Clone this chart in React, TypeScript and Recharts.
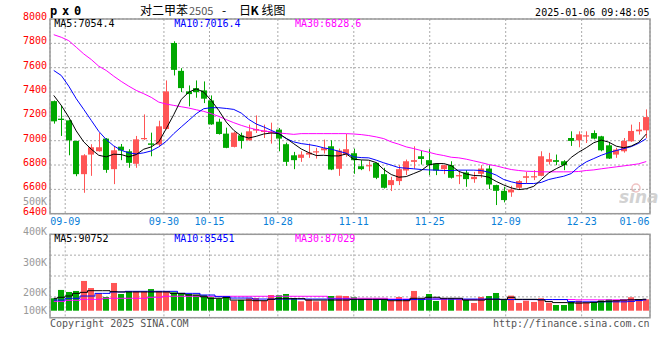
import React from 'react';
import { ComposedChart, Bar, Line, XAxis, YAxis, CartesianGrid } from 'recharts';

// 交易日
const dates = ['09-05','09-06','09-09','09-10','09-11','09-12','09-13','09-18','09-19','09-20','09-23','09-24','09-25','09-26','09-27','09-30','10-08','10-09','10-10','10-11','10-14','10-15','10-16','10-17','10-18','10-21','10-22','10-23','10-24','10-25','10-28','10-29','10-30','10-31','11-01','11-04','11-05','11-06','11-07','11-08','11-11','11-12','11-13','11-14','11-15','11-18','11-19','11-20','11-21','11-22','11-25','11-26','11-27','11-28','11-29','12-02','12-03','12-04','12-05','12-06','12-09','12-10','12-11','12-12','12-13','12-16','12-17','12-18','12-19','12-20','12-23','12-24','12-25','12-26','12-27','12-30','12-31','01-02','01-03','01-06'];

const opens = [7325,7181,7167,6998,6725,6886,6913,7017,6766,6951, 6913,6810,7014,6978,6968,7096,7803,7574,7405,7432, 7413,7331,7156,7058,6949,7044,7003,7083,7072,7066, 7091,6971,6880,6859,6886,6905,6921,6954,6769,6886, 6897,6790,6790,6818,6725,6635,6668,6755,6826,6872, 6840,6812,6766,6799,6708,6739,6684,6728,6771,6635, 6588,6575,6613,6695,6700,6711,6826,6840,6831,7022, 7003,7036,7063,7036,6962,6886,6913,6995,7077,7085];
const highs = [7330,7290,7172,7000,6889,6971,7063,7022,6957,6973, 6930,7039,7216,7066,7164,7495,7817,7596,7454,7495, 7487,7372,7181,7107,7072,7066,7132,7208,7132,7148, 7104,6984,6908,6913,6976,6941,7009,7003,6935,7055, 6935,6840,6831,6820,6777,6703,6799,6845,6954,6916, 6930,6815,6802,6831,6744,6758,6744,6799,6799,6638, 6621,6629,6676,6744,6758,6913,6900,6886,6840,7077, 7077,7077,7085,7040,6990,6941,7022,7132,7153,7257];
const lows = [7140,7039,6880,6708,6572,6711,6910,6736,6643,6840, 6777,6777,7006,6872,6949,7093,7536,7399,7282,7353, 7309,7130,7050,6938,6945,6935,7000,7063,7022,6976, 6913,6793,6766,6826,6859,6853,6894,6758,6711,6867, 6728,6758,6749,6684,6607,6586,6635,6717,6771,6804, 6717,6717,6725,6689,6643,6621,6654,6695,6602,6471, 6493,6539,6602,6648,6676,6708,6804,6799,6758,6957, 6946,6981,7011,6913,6850,6859,6902,6990,7050,7022];
const closes = [7159,7170,7003,6725,6880,6946,6946,6760,6921,6919, 6818,7011,7022,6966,7118,7405,7582,7432,7383,7399, 7345,7134,7055,6941,7066,6998,7077,7096,7083,7074, 7017,6826,6840,6886,6902,6913,6938,6763,6919,6930, 6840,6766,6799,6695,6613,6676,6766,6831,6840,6850, 6801,6755,6799,6695,6717,6684,6703,6771,6640,6588, 6512,6599,6668,6708,6708,6872,6848,6826,6799,6998, 7052,7044,7017,6921,6853,6927,6998,7080,7091,7194];

const ma5 = [7372,7290,7194,7080,6990,6930,6880,6867,6889,6886, 6867,6886,6930,6949,6990,7099,7214,7339,7399,7426, 7399,7331,7249,7153,7085,7039,7022,7036,7055,7063, 7058,7019,6975,6932,6902,6878,6880,6875,6875,6891, 6848,6842,6840,6820,6763,6722,6700,6705,6730,6755, 6801,6812,6812,6795,6748,6726,6714,6712,6700,6665, 6636,6612,6598,6605,6625,6680,6735,6770,6800,6863, 6906,6942,6983,7005,6988,6955,6942,6956,6986,7054.4];
const ma10 = [7577,7536,7448,7345,7257,7167,7077,7009,6957,6921, 6900,6891,6900,6916,6949,6995,7058,7113,7167,7222, 7263,7271,7271,7265,7257,7227,7175,7137,7113,7085, 7058,7017,6990,6976,6968,6957,6941,6930,6913,6897, 6867,6861,6859,6840,6818,6799,6779,6774,6769,6763, 6760,6758,6755,6755,6758,6758,6758,6755,6741,6717, 6681,6662,6648,6648,6648,6657,6681,6695,6708,6730, 6785,6826,6853,6880,6902,6919,6935,6951,6979,7016.4];
const ma30 = [7871,7850,7822,7768,7713,7667,7612,7577,7530,7487, 7448,7413,7386,7356,7317,7301,7290,7279,7268,7254, 7241,7222,7200,7173,7148,7126,7107,7091,7080,7072, 7063,7058,7052,7058,7058,7058,7058,7058,7058,7058, 7055,7050,7042,7031,7017,6990,6971,6949,6935,6919, 6905,6889,6878,6864,6859,6848,6834,6820,6804,6793, 6777,6763,6755,6749,6747,6744,6744,6744,6744,6744, 6747,6755,6760,6769,6777,6785,6793,6801,6810,6828.6];

// 成交量 (千手)
const vols = [98,164,148,156,235,179,137,108,219,132, 153,150,150,171,156,153,145,137,132,124, 124,106,95,114,79,85,98,100,77,124, 122,132,100,74,90,74,79,116,119,116, 106,85,90,85,85,79,108,90,156,90, 132,77,98,98,90,85,61,108,116,140, 90,119,61,79,69,98,63,45,45,69, 79,66,69,82,90,85,85,106,90,90];
const volMa5 = [98,106,116,137,145,158,158,158,150,148, 148,148,148,148,148,148,137,137,124,124, 110,98,98,103,84,84,84,79,79,90, 95,95,95,95,84,84,84,84,84,84, 90,90,90,90,90,79,79,79,98,98, 106,106,98,98,98,84,84,84,90,90, 90,106,90,90,90,85,72,64,64,62, 60,62,66,72,75,78,84,86,88,90.752];
const volMa10 = [84,84,98,98,116,116,137,137,148,148, 153,153,153,153,153,153,153,137,137,137, 124,124,111,111,100,100,100,92,92,92, 92,92,92,92,92,92,92,92,92,92, 88,88,88,88,88,88,88,88,88,88, 92,92,92,92,92,92,92,92,92,92, 88,88,88,88,88,88,88,88,88,72, 70,70,70,70,70,70,70,74,80,85.451];
const volMa30 = [74,74,82,82,90,90,90,98,98,98, 98,98,98,106,106,114,114,114,114,114, 114,114,114,114,114,114,114,114,114,114, 114,114,114,114,114,114,114,98,98,98, 98,98,98,98,98,92,92,92,92,92, 92,92,92,92,92,88,88,88,88,88, 88,88,88,88,88,88,88,88,88,88, 86,86,86,86,86,86,86,86,86,87.029];

const priceTicks = [6400, 6600, 6800, 7000, 7200, 7400, 7600, 7800, 8000];
const volLabelTicks = [100, 200, 300, 400, 500];
const labelDates = ['09-09', '09-30', '10-15', '10-28', '11-11', '11-25', '12-09', '12-23', '01-06'];

const MONO = '"DejaVu Sans Mono", monospace';
const CJK = '"Noto Sans CJK SC", sans-serif';
const RED = '#ff5555';
const GREEN = '#00a800';
const BLUE_TXT = '#0a80d8';
const GRID = '#aaaaaa';
const FRAME = '#999999';

// 画面布局
const PLOT_L = 50;
const PLOT_R = 650;
const P_TOP = 19;
const P_BOTTOM = 213.7;
const P_H = 230;
const V_OFF = 190;
const V_TOP = 234.3;
const V_BOTTOM = 317.7;
const V_H = 135;
const V_MIN = -55.3;
const V_MAX = 603.6;

const rows = dates.map((date, i) => ({
  date,
  i,
  open: opens[i],
  high: highs[i],
  low: lows[i],
  close: closes[i],
  ma5: ma5[i],
  ma10: ma10[i],
  ma30: ma30[i],
  vol: vols[i],
  vma5: volMa5[i],
  vma10: volMa10[i],
  vma30: volMa30[i],
}));

const gridTicks = labelDates.map((d) => dates.indexOf(d));
const volGridTicks = [0, 1, 2, 3, 4].map((k) => V_MIN + (k * (V_MAX - V_MIN)) / 4);

const Candle = (props: any) => {
  const { x, y, width, height, payload } = props;
  if (x == null || y == null || !payload) return null;
  const { open, close, high, low } = payload;
  const color = close >= open ? RED : GREEN;
  const yOf = (v: number) => y + ((high - v) / (high - low || 1)) * height;
  const left = Math.round(x + width / 2 - 3);
  const top = yOf(Math.max(open, close));
  const bottom = yOf(Math.min(open, close));
  return (
    <g>
      <line x1={left + 3.5} x2={left + 3.5} y1={y} y2={y + height} stroke={color} strokeWidth={1} />
      <rect x={left} y={top} width={6} height={Math.max(bottom - top, 1.2)} fill={color} />
    </g>
  );
};

const VolBar = (props: any) => {
  const { x, y, width, height, payload } = props;
  if (x == null || y == null || !payload) return null;
  const left = Math.round(x + width / 2 - 3);
  return <rect x={left} y={y} width={6} height={Math.max(height, 0)} fill={payload.close >= payload.open ? RED : GREEN} />;
};

const PriceTick = ({ x, y, payload }: any) => (
  <text x={x} y={y - 2.5} textAnchor="end" dominantBaseline="central" fontFamily={MONO} fontSize={10} fill="#ff0000">
    {payload.value}
  </text>
);

const DateTick = ({ x, y, payload }: any) => {
  const nearEnd = x + 15 > PLOT_R;
  return (
    <text x={nearEnd ? PLOT_R - 0.5 : x} y={y} textAnchor={nearEnd ? 'end' : 'middle'} dominantBaseline="central" fontFamily={MONO} fontSize={10} fill={BLUE_TXT}>
      {dates[payload.value]}
    </text>
  );
};

const VolTick = ({ x, y, payload }: any) => (
  <text x={x} y={Math.min(y, V_BOTTOM - V_OFF - 5) - 2.5} textAnchor="end" dominantBaseline="central" fontFamily={MONO} fontSize={10} fill="#999999">
    {payload.value}K
  </text>
);

export default function App() {
  const last = rows.length - 1;
  return (
    <div style={{ position: 'absolute', left: 0, top: 0, width: 660, height: 360, background: '#fff', overflow: 'hidden' }}>
      {/* K线 */}
      <div style={{ position: 'absolute', left: 0, top: 0 }}>
        <ComposedChart width={660} height={P_H} data={rows} margin={{ top: P_TOP, right: 660 - PLOT_R, left: 0, bottom: 0 }}>
          <CartesianGrid xAxisId="t" stroke={GRID} strokeDasharray="2 2" />
          <XAxis dataKey="date" hide height={0} />
          <XAxis
            xAxisId="t"
            type="number"
            dataKey="i"
            domain={[0, dates.length - 1]}
            ticks={gridTicks}
            interval={0}
            height={P_H - P_BOTTOM}
            axisLine={false}
            tickLine={false}
            tickSize={0}
            tickMargin={7.3}
            tick={<DateTick />}
          />
          <YAxis
            domain={[6400, 8000]}
            ticks={priceTicks}
            interval={0}
            allowDataOverflow
            width={PLOT_L}
            axisLine={false}
            tickLine={false}
            tickSize={0}
            tickMargin={3}
            tick={<PriceTick />}
          />
          <Bar dataKey={(d: any) => [d.low, d.high]} shape={<Candle />} isAnimationActive={false} />
          <Line dataKey="ma30" stroke="#ff00ff" strokeWidth={1} dot={false} isAnimationActive={false} />
          <Line dataKey="ma10" stroke="#0000ff" strokeWidth={1} dot={false} isAnimationActive={false} />
          <Line dataKey="ma5" stroke="#000000" strokeWidth={1} dot={false} isAnimationActive={false} />
        </ComposedChart>
      </div>

      {/* 成交量 */}
      <div style={{ position: 'absolute', left: 0, top: V_OFF }}>
        <ComposedChart width={660} height={V_H} data={rows} margin={{ top: V_TOP - V_OFF, right: 660 - PLOT_R, left: 0, bottom: V_H - (V_BOTTOM - V_OFF) }}>
          <CartesianGrid xAxisId="t" yAxisId="v" stroke={GRID} strokeDasharray="2 2" />
          <XAxis dataKey="date" hide height={0} />
          <XAxis xAxisId="t" type="number" dataKey="i" domain={[0, dates.length - 1]} ticks={gridTicks} interval={0} hide height={0} />
          <YAxis yAxisId="v" domain={[V_MIN, V_MAX]} ticks={volGridTicks} interval={0} allowDataOverflow hide />
          <YAxis
            yAxisId="lbl"
            type="number"
            domain={[125, 400]}
            ticks={volLabelTicks}
            interval={0}
            allowDataOverflow
            width={PLOT_L}
            axisLine={false}
            tickLine={false}
            tickSize={0}
            tickMargin={3}
            tick={<VolTick />}
          />
          <Bar yAxisId="v" dataKey="vol" shape={<VolBar />} isAnimationActive={false} />
          <Line yAxisId="v" type="step" dataKey="vma30" stroke="#ff00ff" strokeWidth={1} dot={false} isAnimationActive={false} />
          <Line yAxisId="v" type="step" dataKey="vma10" stroke="#0000ff" strokeWidth={1} dot={false} isAnimationActive={false} />
          <Line yAxisId="v" type="step" dataKey="vma5" stroke="#000000" strokeWidth={1} dot={false} isAnimationActive={false} />
        </ComposedChart>
      </div>

      {/* 标题、图例、边框 */}
      <svg width={660} height={360} style={{ position: 'absolute', left: 0, top: 0, pointerEvents: 'none' }}>
        <rect x={PLOT_L} y={P_TOP} width={PLOT_R - PLOT_L} height={P_BOTTOM - P_TOP} fill="none" stroke={FRAME} strokeWidth={1.5} />
        <rect x={PLOT_L} y={V_TOP} width={PLOT_R - PLOT_L} height={V_BOTTOM - V_TOP} fill="none" stroke={FRAME} strokeWidth={1.5} />

        <text x={50} y={15} fontFamily={MONO} fontWeight="bold" fontSize={12} letterSpacing={4.8} fill="#000">px0</text>
        <text y={14.5} fontFamily={CJK} fontSize={12} fill="#000">
          <tspan x={140}>对二甲苯</tspan>
          <tspan x={189} fontSize={11} fill="#555">2505</tspan>
          <tspan x={222}>-</tspan>
          <tspan x={239}>日</tspan>
          <tspan x={250.5} fontWeight="bold">K</tspan>
          <tspan x={261.5}>线图</tspan>
        </text>
        <text x={649.5} y={15.5} textAnchor="end" fontFamily={MONO} fontSize={10} fill="#000">2025-01-06 09:48:05</text>

        <text x={54.3} y={27.3} fontFamily={MONO} fontSize={10} fill="#000">{`MA5:${rows[last].ma5}`}</text>
        <text x={174.3} y={27.3} fontFamily={MONO} fontSize={10} fill="#0000ff">{`MA10:${rows[last].ma10}`}</text>
        <text x={295} y={27.3} fontFamily={MONO} fontSize={10} fill="#ff00ff">{`MA30:${rows[last].ma30}`}</text>

        <text x={54.3} y={242} fontFamily={MONO} fontSize={10} fill="#000">{`MA5:${Math.round(rows[last].vma5 * 1000)}`}</text>
        <text x={174.3} y={242} fontFamily={MONO} fontSize={10} fill="#0000ff">{`MA10:${Math.round(rows[last].vma10 * 1000)}`}</text>
        <text x={295} y={242} fontFamily={MONO} fontSize={10} fill="#ff00ff">{`MA30:${Math.round(rows[last].vma30 * 1000)}`}</text>

        <text x={619} y={203} fontFamily='"DejaVu Sans", sans-serif' fontStyle="italic" fontWeight="bold" fontSize={17} fill="#c4c4c4" opacity={0.75}>sina</text>
        <circle cx={636} cy={188} r={4} fill="none" stroke="#e8a8a8" strokeWidth={1.5} opacity={0.7} />

        <text x={50} y={327} fontFamily={MONO} fontSize={10} fill="#555">Copyright 2025 SINA.COM</text>
        <text x={649.5} y={327} textAnchor="end" fontFamily={MONO} fontSize={10} fill="#555">http://finance.sina.com.cn</text>
      </svg>
    </div>
  );
}
